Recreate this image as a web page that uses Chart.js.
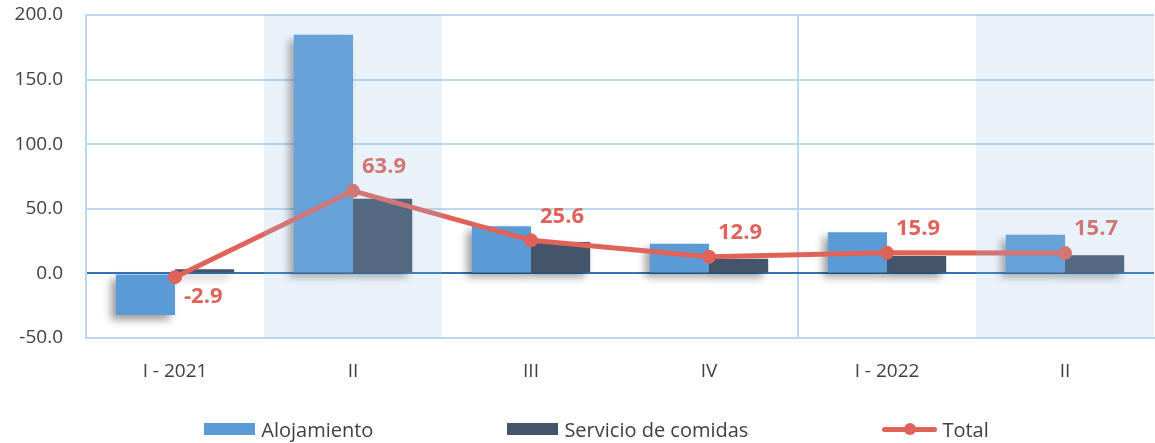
<!DOCTYPE html>
<html><head><meta charset="utf-8">
<script src="https://cdn.jsdelivr.net/npm/chart.js@4"></script>
<style>
html,body{margin:0;padding:0;background:#fff;}
#wrap{position:relative;width:1155px;height:443px;}
#legend{position:absolute;left:38px;width:1117px;top:416px;height:26px;display:flex;justify-content:center;align-items:center;gap:134px;font:20px 'Open Sans',sans-serif;color:#404040;}
.item{display:flex;align-items:center;white-space:nowrap;}
.box{width:51px;height:12px;margin-right:6px;}
.lsw{position:relative;width:55px;height:16px;margin-right:5px;}
.lsw .ln{position:absolute;left:0;right:0;top:5.5px;height:5px;border-radius:3px;}
.lsw .dt{position:absolute;left:21.5px;top:2px;width:12px;height:12px;border-radius:50%;}
</style></head>
<body>
<div id="wrap"><canvas id="c" width="1155" height="443"></canvas><div id="legend"></div></div>
<script>
const categories = ['I - 2021', 'II', 'III', 'IV', 'I - 2022', 'II'];
const alojamiento = [-32.2, 184.7, 36.5, 23.0, 31.8, 30.0];
const servicioComidas = [3.2, 57.8, 24.3, 11.4, 13.5, 14.0];
const total = [-2.9, 63.9, 25.6, 12.9, 15.9, 15.7];
const yMin = -50, yMax = 200, yStep = 50;
const shadedCategories = [1, 5];
const yearSeparatorIndex = 4;

const colAloj = '#5B9BD5', colServ = '#44546A', colTotal = '#E0635A';
const gridCol = '#BDD7EE', zeroCol = '#2E75B6';
const FONT = "'Open Sans', sans-serif";

const shadowPlugin = {
  id: 'barShadow',
  beforeDatasetDraw(chart, args) {
    if (args.meta.type !== 'bar') return;
    const ctx = chart.ctx;
    ctx.save();
    ctx.shadowColor = 'rgba(0,0,0,0.38)';
    ctx.shadowOffsetX = -5;
    ctx.shadowOffsetY = 5;
    ctx.shadowBlur = 8;
  },
  afterDatasetDraw(chart, args) {
    if (args.meta.type !== 'bar') return;
    chart.ctx.restore();
  }
};

const labelPlugin = {
  id: 'totalLabels',
  afterDatasetsDraw(chart) {
    const ctx = chart.ctx;
    const idx = chart.data.datasets.findIndex(d => d.type === 'line');
    const meta = chart.getDatasetMeta(idx);
    ctx.save();
    ctx.font = 'bold 22px ' + FONT;
    ctx.fillStyle = colTotal;
    ctx.textAlign = 'left';
    ctx.textBaseline = 'middle';
    meta.data.forEach((pt, i) => {
      const v = total[i];
      const y = v < 0 ? pt.y + 20 : pt.y - 24;
      ctx.fillText(v.toFixed(1), pt.x + 9, y);
    });
    ctx.restore();
  }
};

const bandPlugin = {
  id: 'bands',
  afterDraw(chart) {
    const ctx = chart.ctx, x = chart.scales.x, ca = chart.chartArea;
    const w = ca.width / categories.length;
    ctx.save();
    ctx.fillStyle = 'rgba(150,190,225,0.2)';
    shadedCategories.forEach(i => {
      const c = x.getPixelForValue(i);
      ctx.fillRect(c - w / 2, ca.top, w, ca.bottom - ca.top);
    });
    ctx.restore();
  }
};

const chart = new Chart(document.getElementById('c'), {
  data: {
    labels: categories,
    datasets: [
      { type: 'bar', label: 'Alojamiento', data: alojamiento, backgroundColor: colAloj, order: 1,
        categoryPercentage: 0.665, barPercentage: 1.0 },
      { type: 'bar', label: 'Servicio de comidas', data: servicioComidas, backgroundColor: colServ, order: 2,
        categoryPercentage: 0.665, barPercentage: 1.0 },
      { type: 'line', label: 'Total', data: total, borderColor: colTotal, backgroundColor: colTotal,
        borderWidth: 5, pointRadius: 7, pointHoverRadius: 7, pointBorderWidth: 0, tension: 0, order: 0 }
    ]
  },
  options: {
    responsive: false,
    animation: false,
    layout: { autoPadding: false, padding: { top: 15, right: 1, left: 0, bottom: 0 } },
    plugins: { legend: { display: false }, tooltip: { enabled: false } },
    scales: {
      x: {
        offset: true,
        grid: {
          offset: true,
          drawTicks: false,
          lineWidth: 2,
          color: c => (c.index === yearSeparatorIndex || c.index === categories.length) ? gridCol : 'rgba(0,0,0,0)'
        },
        border: { display: true, color: gridCol, width: 2 },
        ticks: { color: '#404040', font: { family: FONT, size: 19 }, padding: 22, maxRotation: 0, autoSkip: false },
        afterFit: s => { s.height = 105; s.paddingLeft = 0; s.paddingRight = 0; }
      },
      y: {
        min: yMin, max: yMax,
        grid: {
          drawTicks: false,
          lineWidth: 2,
          color: c => c.tick && c.tick.value === 0 ? zeroCol : gridCol
        },
        border: { display: true, color: gridCol, width: 2 },
        ticks: { stepSize: yStep, color: '#404040', font: { family: FONT, size: 19 }, padding: 23,
          callback: v => Number(v).toFixed(1) },
        afterFit: s => { s.width = 86; s.paddingTop = 0; s.paddingBottom = 0; }
      }
    }
  },
  plugins: [shadowPlugin, labelPlugin, bandPlugin]
});

// HTML legend built from the chart's datasets
const legend = document.getElementById('legend');
chart.data.datasets.forEach(ds => {
  const item = document.createElement('div');
  item.className = 'item';
  let sw;
  if (ds.type === 'line') {
    sw = document.createElement('div');
    sw.className = 'lsw';
    sw.innerHTML = '<div class="ln" style="background:' + ds.borderColor + '"></div><div class="dt" style="background:' + ds.borderColor + '"></div>';
  } else {
    sw = document.createElement('div');
    sw.className = 'box';
    sw.style.background = ds.backgroundColor;
  }
  const t = document.createElement('span');
  t.textContent = ds.label;
  item.appendChild(sw);
  item.appendChild(t);
  legend.appendChild(item);
});
</script>
</body></html>
